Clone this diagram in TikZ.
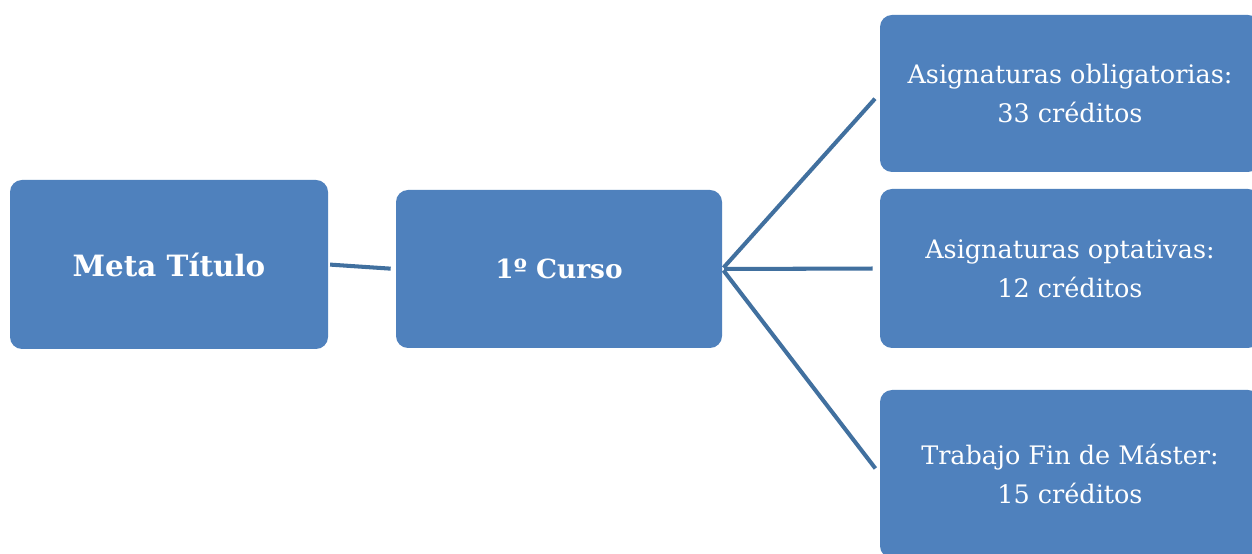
\documentclass[tikz,border=0pt]{standalone}
\usepackage{fontspec}
\usepackage{tikz}
\setmainfont{DejaVu Serif}
\definecolor{boxBlue}{HTML}{4F81BD}
\definecolor{lineBlue}{HTML}{41709F}
\begin{document}
\begin{tikzpicture}[
    box/.style={rectangle, rounded corners=0.24cm, fill=boxBlue, text=white, align=center, inner sep=0pt},
    link/.style={draw=lineBlue, line width=2.3pt, shorten <=1pt, shorten >=0.14cm}
]

        \clip (0,0) rectangle (25.04,11.06);
        \fill[white] (0,0) rectangle (25.04,11.06);

        % left side
        \node[box, minimum width=6.36cm, minimum height=3.38cm, font=\fontsize{16.7}{20}\selectfont\bfseries] (meta) at (3.38,5.77) {Meta Título};
        \node[box, minimum width=6.52cm, minimum height=3.16cm, font=\fontsize{15}{18}\selectfont\bfseries] (curso) at (11.18,5.68) {1º Curso};

        % right side
        \node[box, minimum width=7.6cm, minimum height=3.14cm, font=\fontsize{14.5}{22}\selectfont] (oblig) at (21.4,9.19) {Asignaturas obligatorias:\\33 créditos};
        \node[box, minimum width=7.6cm, minimum height=3.18cm, font=\fontsize{14.5}{22}\selectfont] (optat) at (21.4,5.69) {Asignaturas optativas:\\12 créditos};
        \node[box, minimum width=7.6cm, minimum height=3.36cm, font=\fontsize{14.5}{22}\selectfont] (tfm) at (21.4,1.58) {Trabajo Fin de Máster:\\15 créditos};

        % connectors
        \draw[link, shorten >=0.1cm] (meta.east) -- (curso.west);
        \draw[link] (curso.east) -- (oblig.west);
        \draw[link] (curso.east) -- (optat.west);
        \draw[link] (curso.east) -- (tfm.west);

    \end{tikzpicture}
\end{document}
